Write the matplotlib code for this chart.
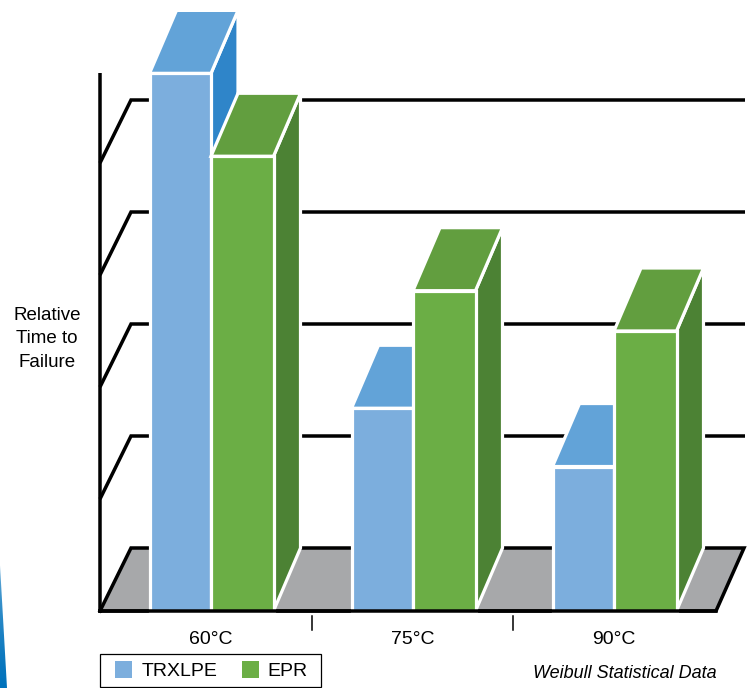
import numpy as np
import matplotlib
matplotlib.use('Agg')
import matplotlib.pyplot as plt
from matplotlib.patches import Polygon, Rectangle

plt.rcParams['font.family'] = ['Liberation Sans', 'DejaVu Sans']

categories = ['60°C', '75°C', '90°C']
trxlpe = [4.80, 1.81, 1.29]
epr = [4.06, 2.86, 2.50]
grid_levels = [1, 2, 3, 4]
series_names = ['TRXLPE', 'EPR']

#x axis runs in pixels, y axis in relative time units (112 px per unit)
fig = plt.figure(figsize=(7.52, 6.88), dpi=100)
ax = fig.add_axes([0, 0, 1, 1])
unit = 112
floor_px = 611
ymin = (floor_px - 688) / unit
ymax = floor_px / unit
px = lambda n: n / unit  # pixel height to y units

centers = [211, 413, 614]
bar_w = 61.5
depth_x = 27
depth_y = px(63)
lw3 = 3.5 * 0.72
white = 3.2 * 0.72
label_size = 14


def face(pts, color, z):
    ax.add_patch(Polygon(pts, closed=True, facecolor=color, edgecolor='white',
                         linewidth=white, joinstyle='miter', zorder=z))


def draw_bar(left, right, val, front, top, side, z):
    face([(right, 0), (right + depth_x, depth_y), (right + depth_x, val + depth_y), (right, val)], side, z)
    face([(left, val), (left + depth_x, val + depth_y), (right + depth_x, val + depth_y), (right, val)], top, z)
    face([(left, 0), (right, 0), (right, val), (left, val)], front, z)


#floor
ax.add_patch(Polygon([(100, 0), (131, depth_y), (744, depth_y), (716, 0)], closed=True,
                     facecolor='#A7A8AA', edgecolor='none', zorder=1))
ax.plot([100, 131, 744, 716, 100], [0, depth_y, depth_y, 0, 0], color='black', lw=lw3,
        solid_joinstyle='miter', zorder=2)

#back wall lines and the slanted bits on the left
for lev in grid_levels:
    ax.plot([100, 131, 745], [lev, lev + depth_y, lev + depth_y], color='black', lw=lw3,
            solid_joinstyle='miter', solid_capstyle='butt', zorder=2)
ax.plot([100, 100], [0, px(538)], color='black', lw=lw3, zorder=2, solid_capstyle='butt')

#bars
for i, c in enumerate(centers):
    draw_bar(c - bar_w, c, trxlpe[i], '#7CAEDD', '#62A3D8', '#2F85C9', 5 + i)
    draw_bar(c, c + bar_w + 1, epr[i], '#6BAE45', '#629E3F', '#4C8234', 5.5 + i)

#bottom line goes back over the white edges
ax.plot([100, 716], [0, 0], color='black', lw=lw3, zorder=10)

#category separators and labels
for x in [312, 513]:
    ax.plot([x, x], [-px(5), -px(19)], color='black', lw=1.1, zorder=3)
for c, name in zip(centers, categories):
    ax.text(c, -px(28), name, ha='center', va='center', fontsize=label_size)

for name, y in zip(['Relative', 'Time to', 'Failure'], [315, 338, 362]):
    ax.text(47, px(611 - y), name, ha='center', va='center', fontsize=13.5)

#legend box
ax.add_patch(Rectangle((100, -px(76)), 221, px(33), facecolor='white', edgecolor='black', linewidth=0.9))
ax.add_patch(Rectangle((115, -px(67)), 17, px(17), facecolor='#7CAEDD', edgecolor='none'))
ax.add_patch(Rectangle((242, -px(67)), 17, px(17), facecolor='#6BAE45', edgecolor='none'))
ax.text(142, -px(61), series_names[0], ha='left', va='center', fontsize=label_size)
ax.text(267, -px(61), series_names[1], ha='left', va='center', fontsize=label_size)

ax.text(625, -px(63), 'Weibull Statistical Data', ha='center', va='center',
        fontsize=13, style='italic')

#blue sliver in the bottom left corner
grad = np.linspace(0, 1, 128).reshape(-1, 1) ** 0.2
cmap = matplotlib.colors.LinearSegmentedColormap.from_list('sliver', ['white', '#0072BC'])
im = ax.imshow(grad, extent=[0, 7, ymin, px(611 - 565)], origin='upper', cmap=cmap,
               aspect='auto', zorder=1)
clip = Polygon([(0, px(611 - 565)), (0, ymin), (6.5, ymin)], closed=True, transform=ax.transData,
               facecolor='none', edgecolor='none')
ax.add_patch(clip)
im.set_clip_path(clip)

ax.set_xlim(0, 752)
ax.set_ylim(ymin, ymax)
ax.axis('off')

fig.savefig('out.png', dpi=100)
